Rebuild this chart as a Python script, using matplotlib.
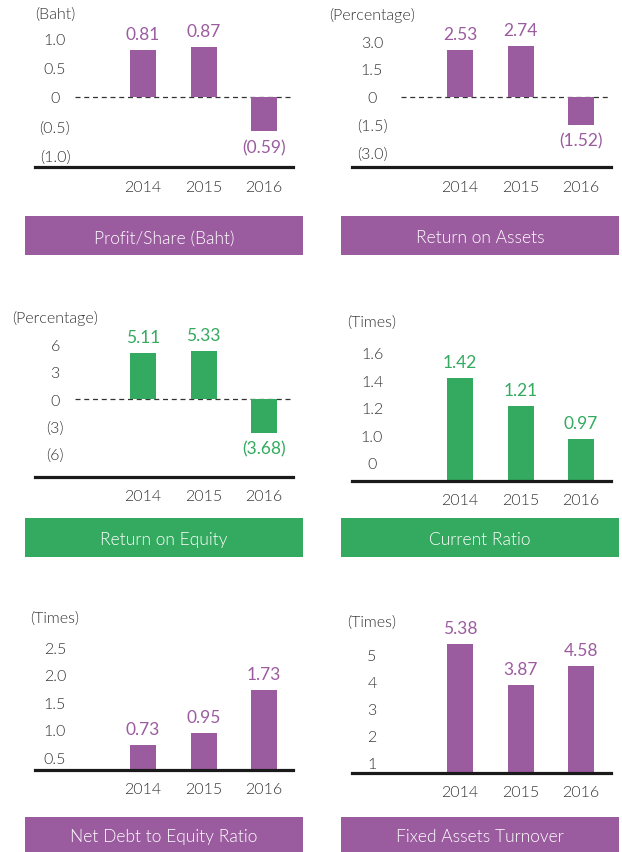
import os
import numpy as np
import matplotlib.pyplot as plt
from matplotlib import font_manager

# ---- data ----
years = ["2014", "2015", "2016"]
profit_share = [0.81, 0.87, -0.59]
roa = [2.53, 2.74, -1.52]
roe = [5.11, 5.33, -3.68]
current_ratio = [1.42, 1.21, 0.97]
net_debt_equity = [0.73, 0.95, 1.73]
fixed_asset_turnover = [5.38, 3.87, 4.58]

titles = ["Profit/Share (Baht)", "Return on Assets", "Return on Equity",
          "Current Ratio", "Net Debt to Equity Ratio", "Fixed Assets Turnover"]
units = ["(Baht)", "(Percentage)", "(Percentage)", "(Times)", "(Times)", "(Times)"]

profit_ticks = [1.0, 0.5, 0, -0.5, -1.0]
profit_tick_labels = ["1.0", "0.5", "0", "(0.5)", "(1.0)"]
roa_ticks = [3.0, 1.5, 0, -1.5, -3.0]
roa_tick_labels = ["3.0", "1.5", "0", "(1.5)", "(3.0)"]
roe_ticks = [6, 3, 0, -3, -6]
roe_tick_labels = ["6", "3", "0", "(3)", "(6)"]
cr_ticks = [1.6, 1.4, 1.2, 1.0, 0.8]          # lowest one is the axis-break "0"
cr_tick_labels = ["1.6", "1.4", "1.2", "1.0", "0"]
nde_ticks = [2.5, 2.0, 1.5, 1.0, 0.5]
nde_tick_labels = ["2.5", "2.0", "1.5", "1.0", "0.5"]
fat_ticks = [5, 4, 3, 2, 1]
fat_tick_labels = ["5", "4", "3", "2", "1"]

# ---- style ----
W, H = 622, 853
PURPLE = "#9b5c9f"
GREEN = "#33aa5f"
TXT = "#333333"
plt.rcParams["font.family"] = ["Lato", "DejaVu Sans"]

# use a real "Light" cut if one is installed, otherwise plain regular
light_path = font_manager.findfont(font_manager.FontProperties(family="Lato", weight=300))
if "light" in os.path.basename(light_path).lower():
    LIGHT = font_manager.FontProperties(fname=light_path)
else:
    LIGHT = font_manager.FontProperties(family="Lato")

fig = plt.figure(figsize=(W / 100, H / 100), dpi=100)

def fig_rect(x0, y0, x1, y1):
    # pixel box (top-left origin) -> figure fraction
    return [x0 / W, 1 - y1 / H, (x1 - x0) / W, (y1 - y0) / H]

# column geometry (pixels)
cols = [dict(L=35, R=293, box=(25, 303), dash=75),
        dict(L=352, R=611, box=(341, 619), dash=401)]
# row geometry: title-bar top/bottom
rows = [(217, 256), (519, 558), (818, 853)]

panels = [
    dict(vals=profit_share, ticks=profit_ticks, tl=profit_tick_labels, color=PURPLE,
         base=168, ybot=-1.207, ppu=58, unit_h=153, zero=True),
    dict(vals=roa, ticks=roa_ticks, tl=roa_tick_labels, color=PURPLE,
         base=168, ybot=-3.81, ppu=18.5, unit_h=153, zero=True),
    dict(vals=roe, ticks=roe_ticks, tl=roe_tick_labels, color=GREEN,
         base=478, ybot=-8.57, ppu=9.1, unit_h=160, zero=True),
    dict(vals=current_ratio, ticks=cr_ticks, tl=cr_tick_labels, color=GREEN,
         base=482, ybot=0.665, ppu=137, unit_h=159, zero=False),
    dict(vals=net_debt_equity, ticks=nde_ticks, tl=nde_tick_labels, color=PURPLE,
         base=771, ybot=0.27, ppu=55, unit_h=152, zero=False),
    dict(vals=fixed_asset_turnover, ticks=fat_ticks, tl=fat_tick_labels, color=PURPLE,
         base=774, ybot=0.6, ppu=27, unit_h=151, zero=False),
]

AX_H = 160          # axes height in px
SPACING = 60.5      # px between bars
PX2PT = 72 / 100

x = np.arange(len(years))

for i, p in enumerate(panels):
    c = cols[i % 2]
    r = rows[i // 2]
    ax = fig.add_axes(fig_rect(c["L"], p["base"] - AX_H, c["R"], p["base"]))
    ax.set_facecolor("none")
    x0 = -108 / SPACING
    ax.set_xlim(x0, x0 + (c["R"] - c["L"]) / SPACING)
    ax.set_ylim(p["ybot"], p["ybot"] + AX_H / p["ppu"])

    ax.bar(x, p["vals"], width=26 / SPACING, color=p["color"], zorder=2)

    if p["zero"]:
        ax.axhline(0, xmin=(c["dash"] - c["L"]) / (c["R"] - c["L"]), xmax=1,
                   color=TXT, lw=0.9, ls=(0, (4, 3)), zorder=1)

    # value labels
    for xi, v in zip(x, p["vals"]):
        lab = f"{v:.2f}" if v >= 0 else f"({abs(v):.2f})"
        off = 16 if v >= 0 else -16
        ax.annotate(lab, xy=(xi, v), xytext=(0, off * PX2PT), textcoords="offset points",
                    ha="center", va="center", fontsize=12.5, color=p["color"])

    # axes styling
    for s in ["top", "right", "left"]:
        ax.spines[s].set_visible(False)
    ax.spines["bottom"].set_linewidth(2.3)
    ax.spines["bottom"].set_color("#1a1a1a")
    ax.spines["bottom"].set_zorder(3)

    ax.set_xticks(x, years, color=TXT, fontproperties=LIGHT, fontsize=11.5)
    ax.tick_params(axis="x", length=0, pad=9)
    ax.set_yticks(p["ticks"], p["tl"], color=TXT, ha="center",
                  fontproperties=LIGHT, fontsize=11.5)
    ax.tick_params(axis="y", length=0, pad=-20 * PX2PT)

    # unit label
    ax.annotate(units[i], xy=(0, 0), xycoords="axes fraction",
                xytext=(20 * PX2PT, p["unit_h"] * PX2PT), textcoords="offset points",
                ha="center", va="center", color=TXT, fontproperties=LIGHT, fontsize=11.5)

    # title bar
    bx = fig.add_axes(fig_rect(c["box"][0], r[0], c["box"][1], r[1]))
    bx.set_facecolor(p["color"])
    bx.set_xticks([])
    bx.set_yticks([])
    for s in bx.spines.values():
        s.set_visible(False)
    bx.text(0.5, 0.45, titles[i], transform=bx.transAxes, ha="center", va="center",
            color="white", fontproperties=LIGHT, fontsize=12.5)

fig.savefig("out.png", dpi=100)
